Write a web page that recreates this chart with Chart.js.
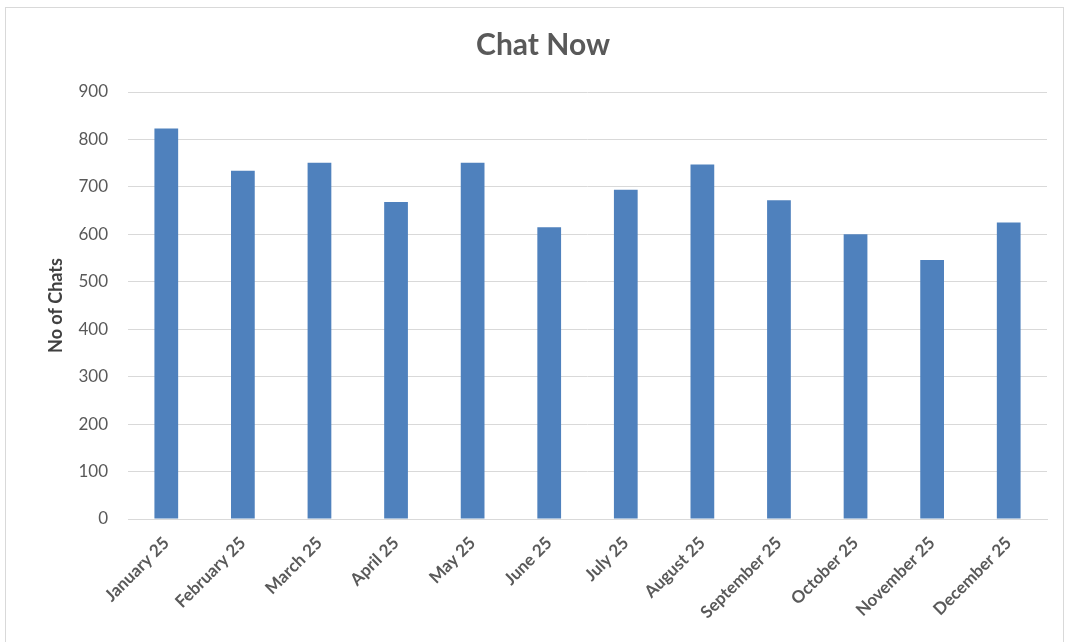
<!DOCTYPE html>
<html>
<head>
<meta charset="utf-8">
<script src="https://cdn.jsdelivr.net/npm/chart.js@4"></script>
<style>
	html, body { margin: 0; padding: 0; background: #fff; }
	#wrap { position: absolute; left: 0; top: 0; width: 1066px; height: 642px; }
	#frame { position: absolute; left: 5px; top: 7px; width: 1057px; height: 640px; border: 1px solid #d9d9d9; pointer-events: none; }
</style>
</head>
<body>
<div id="wrap"><canvas id="myChart" width="1066" height="642"></canvas></div>
<div id="frame"></div>
<script>
"use strict";

const months = [
	"January 25", "February 25", "March 25", "April 25", "May 25", "June 25",
	"July 25", "August 25", "September 25", "October 25", "November 25", "December 25",
];
const chats = [823, 734, 751, 668, 751, 615, 694, 747, 672, 600, 546, 625];
const yTicks = [0, 100, 200, 300, 400, 500, 600, 700, 800, 900];

const fontFamily = "Lato, 'Open Sans', sans-serif";

function generateChart() {
	const ctx = document.getElementById("myChart");

	new Chart(ctx, {
		type: "bar",
		data: {
			labels: months,
			datasets: [
				{
					label: "No of Chats",
					data: chats,
					backgroundColor: "#4f81bd",
					borderWidth: 0,
					categoryPercentage: 1,
					barPercentage: 0.31,
				},
			],
		},
		options: {
			responsive: false,
			animation: false,
			layout: { padding: { left: 20, right: 0, top: 0, bottom: 0 } },
			plugins: {
				legend: { display: false },
				tooltip: { enabled: false },
				title: {
					display: true,
					text: "Chat Now",
					color: "#595959",
					font: { family: fontFamily, size: 30, weight: "bold" },
					padding: { top: 27, bottom: 29 },
				},
			},
			scales: {
				x: {
					grid: { display: false },
					border: { display: true, color: "#d9d9d9", width: 1 },
					ticks: {
						color: "#595959",
						font: { family: fontFamily, size: 17, weight: "bold" },
						minRotation: 45,
						maxRotation: 45,
						padding: 6,
					},
					afterFit: function (scale) {
						scale.height = 123;
					},
				},
				y: {
					min: 0,
					max: 900,
					afterBuildTicks: function (scale) {
						scale.ticks = yTicks.map(function (v) { return { value: v }; });
					},
					grid: { color: "#d9d9d9", drawTicks: false },
					border: { display: false },
					ticks: {
						color: "#595959",
						font: { family: fontFamily, size: 17 },
						padding: 20,
					},
					title: {
						display: true,
						text: "No of Chats",
						color: "#404040",
						font: { family: fontFamily, size: 18, weight: "bold" },
						padding: { top: 25, bottom: 0 },
					},
					afterFit: function (scale) {
						scale.width = 108;
					},
				},
				// empty right-hand axis, only reserves the gap after the last bar
				y2: {
					position: "right",
					grid: { display: false },
					border: { display: false },
					ticks: { display: false },
					afterFit: function (scale) {
						scale.width = 19;
					},
				},
			},
		},
	});
}

generateChart();
</script>
</body>
</html>
